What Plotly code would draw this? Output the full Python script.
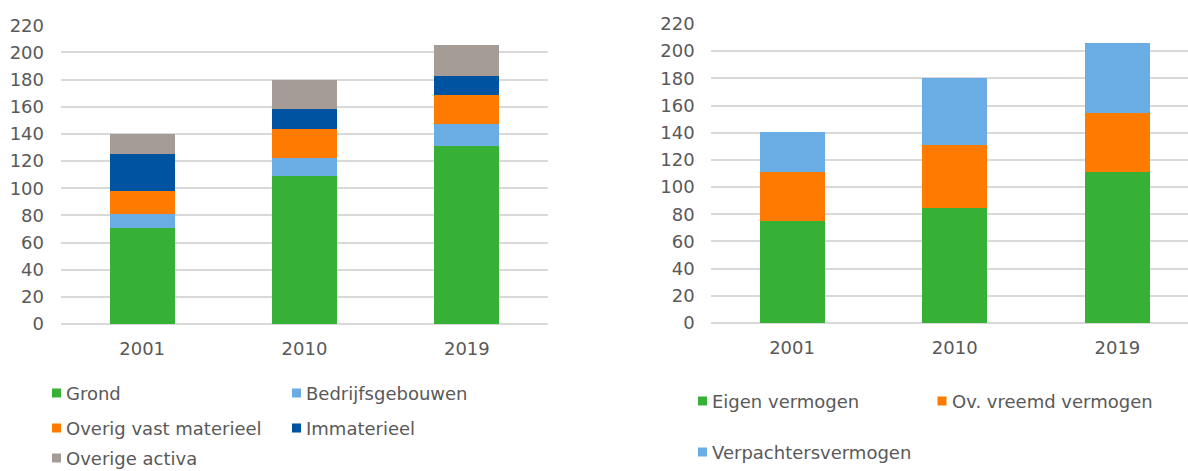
import plotly.graph_objects as go

W, H = 1188, 471

years = ["2001", "2010", "2019"]

# Left chart: activa
grond = [70.5, 109.0, 131.1]
bedrijfsgebouwen = [10.3, 13.5, 16.0]
overig_vast_materieel = [17.1, 20.8, 21.8]
immaterieel = [27.3, 15.0, 13.9]
overige_activa = [14.9, 21.6, 22.6]

# Right chart: passiva
eigen_vermogen = [74.7, 84.9, 111.4]
ov_vreemd_vermogen = [36.7, 46.2, 43.2]
verpachtersvermogen = [29.0, 49.1, 51.1]

y_ticks = [0, 20, 40, 60, 80, 100, 120, 140, 160, 180, 200, 220]

GREEN = "#36B136"
LBLUE = "#6AADE4"
ORANGE = "#FF7B00"
DBLUE = "#0053A0"
GRAY = "#A59D95"
TXT = "#595959"
GRID = "#D9D9D9"
FONT = "DejaVu Sans"
FS = 18

left_series = [
    ("Grond", grond, GREEN),
    ("Bedrijfsgebouwen", bedrijfsgebouwen, LBLUE),
    ("Overig vast materieel", overig_vast_materieel, ORANGE),
    ("Immaterieel", immaterieel, DBLUE),
    ("Overige activa", overige_activa, GRAY),
]
right_series = [
    ("Eigen vermogen", eigen_vermogen, GREEN),
    ("Ov. vreemd vermogen", ov_vreemd_vermogen, ORANGE),
    ("Verpachtersvermogen", verpachtersvermogen, LBLUE),
]

fig = go.Figure()
for name, vals, col in left_series:
    fig.add_trace(go.Bar(x=years, y=vals, name=name, marker=dict(color=col, line=dict(width=0)),
                         xaxis="x", yaxis="y", showlegend=False))
for name, vals, col in right_series:
    fig.add_trace(go.Bar(x=years, y=vals, name=name, marker=dict(color=col, line=dict(width=0)),
                         xaxis="x2", yaxis="y2", showlegend=False))

def px(x):
    return x / W

def py(y):
    return 1 - y / H

ax_common = dict(showline=False, ticks="", automargin=False,
                 tickfont=dict(family=FONT, size=FS, color=TXT))
yax_common = dict(range=[0, 220], tickvals=y_ticks, showgrid=True, gridcolor=GRID, gridwidth=2,
                  zeroline=True, zerolinecolor=GRID, zerolinewidth=2, showline=False, ticks="",
                  automargin=False, tickfont=dict(family=FONT, size=FS, color=TXT), fixedrange=True)

fig.update_layout(
    width=W, height=H,
    margin=dict(l=0, r=0, t=0, b=0, pad=0, autoexpand=False),
    paper_bgcolor="white", plot_bgcolor="white",
    barmode="stack", bargap=0.6,
    font=dict(family=FONT, size=FS, color=TXT),
    xaxis=dict(domain=[px(61), px(548)], anchor="y", type="category", range=[-0.5, 2.5],
               ticklabelstandoff=12, **ax_common),
    yaxis=dict(domain=[py(324), py(25.3)], anchor="x", ticklabelstandoff=16, **yax_common),
    xaxis2=dict(domain=[px(710.7), 1.0], anchor="y2", type="category", range=[-0.5, 2.434],
                ticklabelstandoff=12, **ax_common),
    yaxis2=dict(domain=[py(323), py(24)], anchor="x2", ticklabelstandoff=15, **yax_common),
)

# Custom legends (squares + labels)
shapes = []
annotations = []

def legend_item(name, col, sx, tx, cy):
    shapes.append(dict(type="rect", xref="paper", yref="paper",
                       x0=px(sx), x1=px(sx + 9), y0=py(cy + 4.5), y1=py(cy - 4.5),
                       fillcolor=col, line=dict(width=0)))
    annotations.append(dict(text=name, xref="paper", yref="paper", x=px(tx), y=py(cy),
                            xanchor="left", yanchor="middle", showarrow=False,
                            font=dict(family=FONT, size=FS, color=TXT)))

left_pos = [(52, 64, 393), (292, 304, 393), (52, 64, 428), (292, 304, 428), (52, 64, 458)]
for (name, vals, col), (sx, tx, cy) in zip(left_series, left_pos):
    legend_item(name, col, sx, tx, cy)

right_pos = [(698, 710, 401), (937.5, 949.5, 401), (698, 710, 452)]
for (name, vals, col), (sx, tx, cy) in zip(right_series, right_pos):
    legend_item(name, col, sx, tx, cy)

fig.update_layout(shapes=shapes, annotations=annotations)

fig.write_html("out.html",
               config={"displayModeBar": False, "staticPlot": True},
               post_script="document.body.style.margin='0';document.body.style.overflow='hidden';")
